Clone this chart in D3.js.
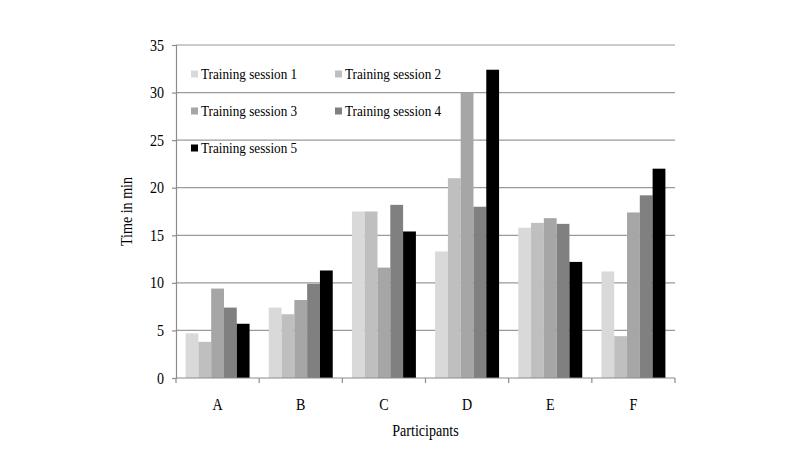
<!DOCTYPE html>
<meta charset="utf-8">
<head>
    <title>Training sessions</title>
    <style>
        body { margin: 0; background: #fff; }
        text { font-family: "Liberation Serif", "Times New Roman", serif; fill: #000; }
    </style>
</head>
<body>
<script src="https://d3js.org/d3.v7.min.js"></script>
<svg id="chart" width="793" height="466"></svg>

<script>
    // data
    var participants = ["A", "B", "C", "D", "E", "F"];
    var sessions = ["Training session 1", "Training session 2", "Training session 3", "Training session 4", "Training session 5"];
    var session1 = [4.7, 7.4, 17.5, 13.3, 15.8, 11.2];
    var session2 = [3.8, 6.7, 17.5, 21.0, 16.3, 4.4];
    var session3 = [9.4, 8.2, 11.6, 30.0, 16.8, 17.4];
    var session4 = [7.4, 9.9, 18.2, 18.0, 16.2, 19.2];
    var session5 = [5.7, 11.3, 15.4, 32.4, 12.2, 22.0];
    var yTicks = [0, 5, 10, 15, 20, 25, 30, 35];
    var colors = ["#d9d9d9", "#bfbfbf", "#a6a6a6", "#808080", "#000000"];

    var series = [session1, session2, session3, session4, session5];

    var svg = d3.select("#chart"),
        margin = {top: 45, right: 118, bottom: 88, left: 176},
        width = 793 - margin.left - margin.right,
        height = 466 - margin.top - margin.bottom,
        sx = 0.88; // text in the original is a bit narrow

    var g = svg.append("g").attr("transform", "translate(" + margin.left + "," + margin.top + ")");

    var x0 = d3.scaleBand().domain(participants).range([0, width]);
    var x1 = d3.scaleBand().domain(d3.range(sessions.length)).range([0, x0.bandwidth()]).paddingOuter(0.75);
    var y = d3.scaleLinear().domain([0, 35]).range([height, 0]);

    function label(sel, x, yy, txt, anchor, size) {
        var t = sel.append("g").attr("transform", "translate(" + x + "," + yy + ") scale(" + sx + ",1)");
        return t.append("text")
            .attr("text-anchor", anchor)
            .attr("dy", "0.35em")
            .style("font-size", size + "px")
            .text(txt);
    }

    // gridlines
    g.append("g").selectAll("line")
        .data(yTicks.slice(1))
        .join("line")
        .attr("x1", 0).attr("x2", width)
        .attr("y1", d => y(d)).attr("y2", d => y(d))
        .attr("stroke", "#9a9a9a").attr("stroke-width", 1.2);

    // bars
    g.append("g").selectAll("g")
        .data(participants)
        .join("g")
        .attr("transform", d => "translate(" + x0(d) + ",0)")
        .selectAll("rect")
        .data((d, i) => series.map((s, k) => ({k: k, v: s[i]})))
        .join("rect")
        .attr("x", d => x1(d.k))
        .attr("width", x1.bandwidth())
        .attr("y", d => y(d.v))
        .attr("height", d => height - y(d.v))
        .attr("fill", d => colors[d.k]);

    // y axis
    var yAxis = g.append("g")
        .call(d3.axisLeft(y).tickValues(yTicks).tickSize(4).tickFormat(""));
    yAxis.select(".domain").attr("stroke", "#8c8c8c").attr("stroke-width", 1.2);
    yAxis.selectAll(".tick line").attr("stroke", "#8c8c8c").attr("stroke-width", 1.2);
    yTicks.forEach(function (t) {
        label(g, -12, y(t), t, "end", 16);
    });

    // x axis with ticks on band edges
    g.append("line").attr("x1", 0).attr("x2", width).attr("y1", height).attr("y2", height)
        .attr("stroke", "#8c8c8c").attr("stroke-width", 1.2);
    g.append("g").selectAll("line")
        .data(participants.map(d => x0(d)).concat([width]))
        .join("line")
        .attr("x1", d => d).attr("x2", d => d)
        .attr("y1", height).attr("y2", height + 5)
        .attr("stroke", "#8c8c8c").attr("stroke-width", 1.2);
    participants.forEach(function (p) {
        label(g, x0(p) + x0.bandwidth() / 2, height + 26, p, "middle", 16);
    });

    // axis titles
    label(g, width / 2, height + 52, "Participants", "middle", 16);
    svg.append("g")
        .attr("transform", "translate(126," + (margin.top + height / 2) + ") rotate(-90) scale(" + sx + ",1)")
        .append("text")
        .attr("text-anchor", "middle")
        .attr("dy", "0.35em")
        .style("font-size", "16px")
        .text("Time in min");

    // legend
    var legend = g.append("g").attr("transform", "translate(15,29)");
    sessions.forEach(function (s, i) {
        var lx = (i % 2) * 144,
            ly = Math.floor(i / 2) * 37;
        legend.append("rect")
            .attr("x", lx).attr("y", ly - 3.5)
            .attr("width", 7).attr("height", 7)
            .attr("fill", colors[i]);
        label(legend, lx + 10, ly, s, "start", 15);
    });
</script>

</body>
